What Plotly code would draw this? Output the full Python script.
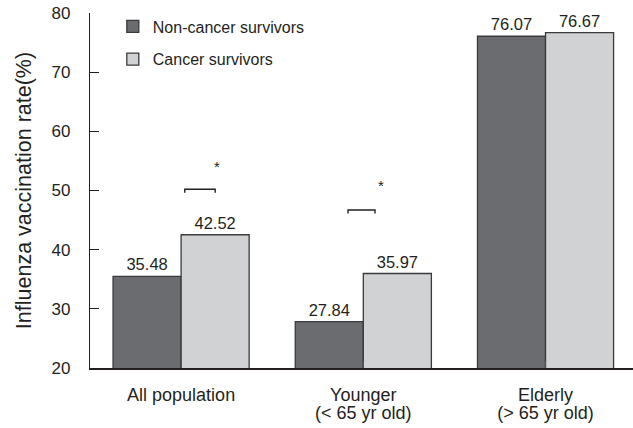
import plotly.graph_objects as go

# Influenza vaccination rate (%) by population group
categories = [["All population"], ["Younger", "(&lt; 65 yr old)"], ["Elderly", "(&gt; 65 yr old)"]]
non_cancer = [35.48, 27.84, 76.07]
cancer = [42.52, 35.97, 76.67]
series_names = ["Non-cancer survivors", "Cancer survivors"]
y_ticks = [20, 30, 40, 50, 60, 70, 80]

INK = "#231f20"
SANS = "Liberation Sans, Arial, Helvetica, sans-serif"

x_idx = list(range(len(categories)))


def cat_label(lines, px=18):
    # larger glyphs inside a smaller base font keeps the two lines close together
    return "<br>".join(f"<span style='font-size:{px}px'>{s}</span>" for s in lines)


fig = go.Figure()
fig.add_trace(go.Bar(
    x=x_idx, y=non_cancer, name=series_names[0],
    marker=dict(color="#6b6c70", line=dict(color="#3a3a3c", width=1.3)),
    text=[f"{v:.2f}" for v in non_cancer], textposition="outside",
    textfont=dict(family=SANS, size=16.5, color=INK),
    cliponaxis=False, legendgroup="a",
))
fig.add_trace(go.Bar(
    x=x_idx, y=cancer, name=series_names[1],
    marker=dict(color="#d1d2d4", line=dict(color="#3a3a3c", width=1.3)),
    text=[f"{v:.2f}" for v in cancer], textposition="outside",
    textfont=dict(family=SANS, size=16.5, color=INK),
    cliponaxis=False, legendgroup="b",
))

# significance brackets with asterisks
brackets = [(0.02, 0.187, 50.2, 54.0, 0.197), (0.916, 1.064, 46.7, 50.9, 1.097)]
for x0, x1, yb, ys, xs in brackets:
    fig.add_shape(type="path",
                  path=f"M {x0},{yb - 0.6} L {x0},{yb} L {x1},{yb} L {x1},{yb - 0.6}",
                  line=dict(color=INK, width=1.4), xref="x", yref="y")
    fig.add_annotation(x=xs, y=ys, text="*", showarrow=False,
                       font=dict(family=SANS, size=15, color=INK))

fig.update_layout(
    width=633, height=428,
    margin=dict(l=90, r=0, t=13, b=60),
    paper_bgcolor="white", plot_bgcolor="white",
    barmode="group", bargap=0.253, bargroupgap=0,
    showlegend=True,
    legend=dict(x=0.042, y=1.01, xanchor="left", yanchor="top",
                font=dict(family=SANS, size=16, color=INK),
                bgcolor="rgba(0,0,0,0)", traceorder="grouped", tracegroupgap=9,
                itemwidth=30),
    xaxis=dict(
        tickvals=x_idx, ticktext=[cat_label(c) for c in categories], range=[-0.5, 2.48],
        showline=True, linecolor=INK, linewidth=1.5,
        ticks="inside", tickson="boundaries", ticklen=7, tickcolor="#555",
        tickfont=dict(family=SANS, size=14, color=INK),
        ticklabelstandoff=14, showgrid=False, zeroline=False, automargin=False,
    ),
    yaxis=dict(
        range=[20, 80], tickvals=y_ticks,
        showline=True, linecolor=INK, linewidth=1.3,
        ticks="inside", ticklen=9, tickcolor=INK, tickwidth=1.3,
        tickfont=dict(family=SANS, size=17, color=INK),
        ticklabelstandoff=15, showgrid=False, zeroline=False, automargin=False,
        title=dict(text="Influenza vaccination rate(%)",
                   font=dict(family=SANS, size=21.5, color=INK), standoff=14),
    ),
)

fig.write_html("out.html")
